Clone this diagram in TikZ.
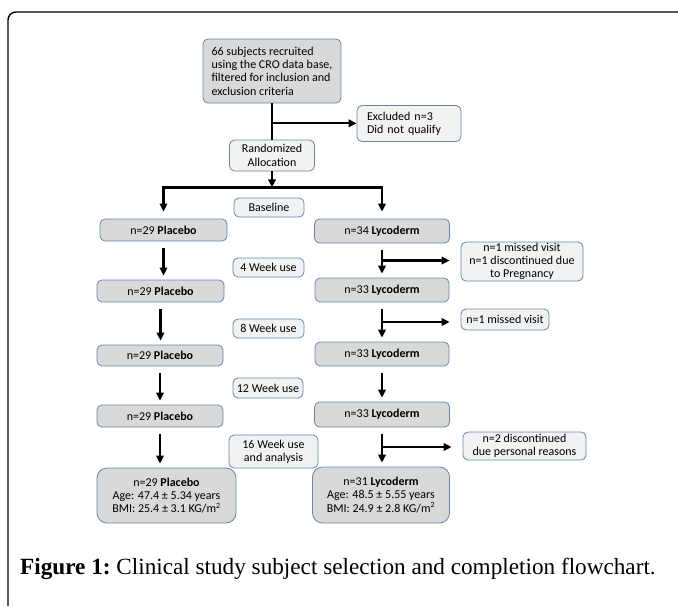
\documentclass[tikz,border=0pt]{standalone}
\usepackage{fontspec}
\setmainfont{Carlito}
\newfontfamily\captionfont{Liberation Serif}
\usepackage{tikz}
\usetikzlibrary{calc, arrows.meta}

\definecolor{boxgray}{HTML}{D9D9D9}
\definecolor{notegray}{HTML}{F2F2F2}
\definecolor{boxline}{HTML}{6A84AE}

\tikzset{
	mainbox/.style={draw=boxline, fill=boxgray, rounded corners=5pt, line width=0.8pt,
		font={\fontsize{12}{13.3}\selectfont}, align=center, inner sep=0pt},
	notebox/.style={mainbox, fill=notegray},
	flow/.style={line width=2.2pt, -{Triangle[length=8pt, width=7.5pt]}},
	link/.style={line width=2.2pt},
}

\begin{document}
\begin{tikzpicture}[x=1pt, y=-1pt]
					\useasboundingbox (0,0) rectangle (678,606);

					% frame
					\begin{scope}
						\draw[line width=1.4pt, rounded corners=8pt] (8,606) -- (8,12) -- (678,12);
					\end{scope}

					% selection
					\begin{scope}
						\node[mainbox, align=left, minimum width=138pt, minimum height=64pt] (top) at (272,71)
							{66 subjects recruited\\using the CRO data base,\\filtered for inclusion and\\exclusion criteria};
						\node[notebox, align=left, text width=84pt, inner xsep=10pt, minimum height=36pt] (excl) at (409,123.5)
							{Excluded n=3\\Did not qualify};
						\node[notebox, minimum width=85pt, minimum height=31pt] (rand) at (272,155.5) {Randomized\\Allocation};
					\end{scope}

					% visits
					\begin{scope}
						\node[notebox, minimum width=70pt, minimum height=19pt] (base) at (269,207.5) {Baseline};
						\node[notebox, minimum width=71pt, minimum height=19pt] (wk4) at (268.5,267.5) {4 Week use};
						\node[notebox, minimum width=71pt, minimum height=19pt] (wk8) at (268.5,328.5) {8 Week use};
						\node[notebox, minimum width=70pt, minimum height=20pt] (wk12) at (268,388) {12 Week use};
						\node[notebox, minimum width=89pt, minimum height=33pt] (wk16) at (273.5,451.5) {16 Week use\\and analysis};
					\end{scope}

					% placebo arm
					\begin{scope}
						\node[mainbox, minimum width=127pt, minimum height=22pt] (plac1) at (163.5,230) {n=29 \textbf{Placebo}};
						\node[mainbox, minimum width=127pt, minimum height=22pt] (plac2) at (160.5,291) {n=29 \textbf{Placebo}};
						\node[mainbox, minimum width=126pt, minimum height=21pt] (plac3) at (160,355.5) {n=29 \textbf{Placebo}};
						\node[mainbox, minimum width=126pt, minimum height=22pt] (plac4) at (160,416) {n=29 \textbf{Placebo}};
						\node[mainbox, minimum width=139pt, minimum height=55pt, rounded corners=10pt] (placF) at (166.5,495.5)
							{n=29 \textbf{Placebo}\\Age: 47.4 ± 5.34 years\\BMI: 25.4 ± 3.1 KG/m\textsuperscript{2}};
					\end{scope}

					% lycoderm arm
					\begin{scope}
						\node[mainbox, minimum width=135pt, minimum height=24pt] (lyc1) at (382,231) {n=34 \textbf{Lycoderm}};
						\node[mainbox, minimum width=134pt, minimum height=24pt] (lyc2) at (382,290) {n=33 \textbf{Lycoderm}};
						\node[mainbox, minimum width=134pt, minimum height=24pt] (lyc3) at (382,354) {n=33 \textbf{Lycoderm}};
						\node[mainbox, minimum width=135pt, minimum height=25pt] (lyc4) at (382,414.5) {n=33 \textbf{Lycoderm}};
						\node[mainbox, minimum width=137pt, minimum height=56pt, rounded corners=10pt] (lycF) at (381,495)
							{n=31 \textbf{Lycoderm}\\Age: 48.5 ± 5.55 years\\BMI: 24.9 ± 2.8 KG/m\textsuperscript{2}};

						\node[notebox, minimum width=122pt, minimum height=39pt] (note1) at (522,261.5)
							{n=1 missed visit\\n=1 discontinued due\\to Pregnancy};
						\node[notebox, minimum width=88pt, minimum height=21pt] (note2) at (505,319.5) {n=1 missed visit};
						\node[notebox, minimum width=123pt, minimum height=28pt] (note3) at (524.5,446)
							{n=2 discontinued\\due personal reasons};
					\end{scope}

					% connectors
					\begin{scope}
						\draw[link] (top.south) -- (rand.north);
						\coordinate (exb) at ($(top.south)!.55!(rand.north)$);
						\draw[flow] (exb) -- (exb -| excl.west);

						\coordinate (split) at ($(rand.south)+(0,16)$);
						\draw[flow] (rand.south) -- (split);
						\draw[link, line cap=rect] (split -| plac1.north) -- (split -| lyc1.north);
						\draw[flow, shorten >=7pt] (split -| plac1.north) -- (plac1.north);
						\draw[flow, shorten >=7pt] (split -| lyc1.north) -- (lyc1.north);

						\foreach \a/\b in {plac1/plac2, plac2/plac3, plac3/plac4, plac4/placF, lyc1/lyc2, lyc2/lyc3, lyc3/lyc4, lyc4/lycF}
						{
							\draw[flow, shorten <=7pt, shorten >=4pt] (\a.south) -- (\a.south |- \b.north);
						}

						\foreach \a/\b/\n in {lyc1/lyc2/note1, lyc2/lyc3/note2, lyc4/lycF/note3}
						{
							\coordinate (br-\n) at ($(\a.south)!.5!(\b.north)$);
							\draw[flow, shorten >=11pt] (br-\n) -- (br-\n -| \n.west);
						}
					\end{scope}

					% caption
					\node[anchor=base west, inner sep=0pt, font={\captionfont\fontsize{23.2}{26}\selectfont}] (caption) at (20,574)
						{\textbf{Figure 1:}\ Clinical study subject selection and completion flowchart.};
				\end{tikzpicture}
\end{document}
